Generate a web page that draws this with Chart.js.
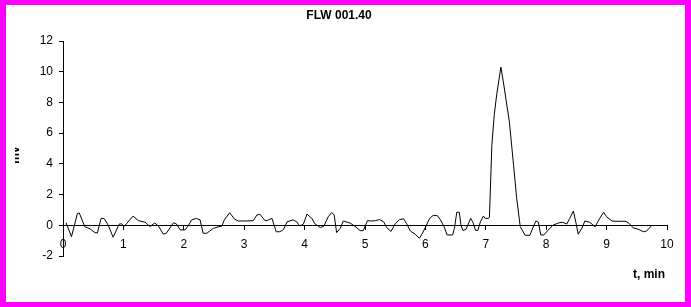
<!DOCTYPE html>
<html><head><meta charset="utf-8">
<script src="https://cdn.jsdelivr.net/npm/chart.js@4/dist/chart.umd.min.js"></script>
<style>
html,body{margin:0;padding:0;background:#fff;overflow:hidden;}
#box{position:relative;width:691px;height:307px;}
</style>
</head><body>
<div id="box"><canvas id="c" width="691" height="307"></canvas></div>
<script>
const chartTitle = "FLW 001.40";
const xAxisTitle = "t, min";
const yAxisTitle = "mv";
const timeMin = [0.05,0.14,0.24,0.27,0.36,0.45,0.53,0.57,0.63,0.68,0.75,0.83,0.93,0.97,1.01,1.05,1.16,1.25,1.36,1.44,1.52,1.58,1.66,1.71,1.83,1.88,1.94,2.02,2.08,2.13,2.21,2.27,2.32,2.38,2.49,2.57,2.63,2.67,2.76,2.84,2.90,3.04,3.15,3.21,3.26,3.35,3.40,3.46,3.53,3.59,3.65,3.71,3.81,3.87,3.92,3.98,4.04,4.12,4.17,4.26,4.32,4.39,4.45,4.49,4.53,4.59,4.64,4.75,4.83,4.92,4.97,5.04,5.11,5.17,5.24,5.31,5.36,5.43,5.50,5.57,5.64,5.69,5.75,5.83,5.90,5.95,6.01,6.07,6.13,6.20,6.25,6.31,6.36,6.45,6.48,6.52,6.56,6.59,6.62,6.67,6.75,6.79,6.83,6.87,6.91,6.96,6.99,7.04,7.06,7.10,7.14,7.18,7.25,7.29,7.39,7.46,7.51,7.57,7.65,7.73,7.78,7.83,7.87,7.91,7.96,8.03,8.11,8.20,8.27,8.34,8.39,8.45,8.49,8.53,8.59,8.64,8.72,8.81,8.86,8.95,9.00,9.09,9.17,9.32,9.38,9.44,9.52,9.61,9.66,9.75];
const signalMv = [0.17,-0.74,0.78,0.8,-0.09,-0.24,-0.48,-0.5,0.45,0.45,0,-0.78,0.08,0.1,-0.08,0.1,0.6,0.3,0.2,-0.08,0.15,-0.05,-0.57,-0.52,0.17,0.08,-0.3,-0.3,0,0.35,0.45,0.35,-0.52,-0.52,-0.2,-0.1,-0.05,0.35,0.82,0.4,0.28,0.28,0.3,0.67,0.72,0.28,0.35,0.45,-0.42,-0.42,-0.28,0.23,0.35,0.23,-0.05,0.08,0.73,0.45,0.1,-0.15,-0.05,0.55,0.83,0.67,-0.48,-0.2,0.28,0.15,-0.05,-0.35,-0.35,0.3,0.28,0.3,0.37,0.22,-0.15,-0.4,0.1,0.37,0.42,0.1,-0.37,-0.58,-0.85,-0.53,-0.05,0.45,0.65,0.62,0.35,-0.1,-0.63,-0.63,-0.2,0.85,0.85,0,-0.33,-0.28,0.45,0.17,-0.33,-0.33,0.22,0.6,0.45,0.45,0.5,5.2,7.2,8.5,10.3,9.35,6.75,3.9,1.8,-0.08,-0.65,-0.65,-0.15,0.28,0.2,-0.63,-0.63,-0.33,0,0.15,0.2,0.08,0.45,0.93,0.22,-0.58,-0.2,0.28,0.2,-0.1,0.28,0.85,0.55,0.28,0.26,0.26,0.1,-0.17,-0.25,-0.42,-0.38,0];
const xTicks = [0,1,2,3,4,5,6,7,8,9,10];
const yTicks = [-2,0,2,4,6,8,10,12];

const points = timeMin.map((t,i)=>({x:t,y:signalMv[i]}));
const FONT = "'Liberation Sans', Arial, sans-serif";

const frame = {
  id:'frame',
  beforeDraw(chart){
    const ctx = chart.ctx;
    ctx.save();
    ctx.fillStyle = '#ff00ff';
    ctx.fillRect(0,0,chart.width,chart.height);
    ctx.fillStyle = '#ffffff';
    ctx.fillRect(6,5,chart.width-12,chart.height-10);
    ctx.restore();
  },
  afterDraw(chart){
    const ctx = chart.ctx;
    ctx.save();
    ctx.fillStyle = '#000';
    ctx.font = "bold 12px " + FONT;
    ctx.textAlign = 'center';
    ctx.textBaseline = 'middle';
    ctx.fillText(chartTitle, 339, 16);
    ctx.fillText(xAxisTitle, 649, 275);
    ctx.beginPath();
    ctx.rect(15,0,40,chart.height);
    ctx.clip();
    ctx.translate(19,155);
    ctx.rotate(-Math.PI/2);
    ctx.textBaseline = 'alphabetic';
    ctx.fillText(yAxisTitle,0,0);
    ctx.restore();
  }
};

new Chart(document.getElementById('c'),{
  type:'line',
  data:{datasets:[{data:points,borderColor:'#000',borderWidth:1,pointRadius:0,tension:0,fill:false}]},
  options:{
    responsive:false,animation:false,
    layout:{padding:{left:0,top:41,right:24,bottom:51}},
    plugins:{legend:{display:false},tooltip:{enabled:false},title:{display:false}},
    scales:{
      x:{type:'linear',min:0,max:10,position:{y:0},
        afterBuildTicks(s){s.ticks = xTicks.map(v=>({value:v}));},
        grid:{drawOnChartArea:false,drawTicks:true,tickLength:4,color:'#000'},
        border:{color:'#000',width:1},
        ticks:{color:'#000',font:{family:FONT,size:12},padding:8,maxRotation:0,autoSkip:false}},
      y:{type:'linear',min:-2,max:12,
        afterBuildTicks(s){s.ticks = yTicks.map(v=>({value:v}));},
        afterFit(s){s.width = 63;},
        grid:{drawOnChartArea:false,drawTicks:true,tickLength:4,color:'#000'},
        border:{color:'#000',width:1},
        ticks:{color:'#000',font:{family:FONT,size:12},padding:6}}
    }
  },
  plugins:[frame]
});
</script>
</body></html>
